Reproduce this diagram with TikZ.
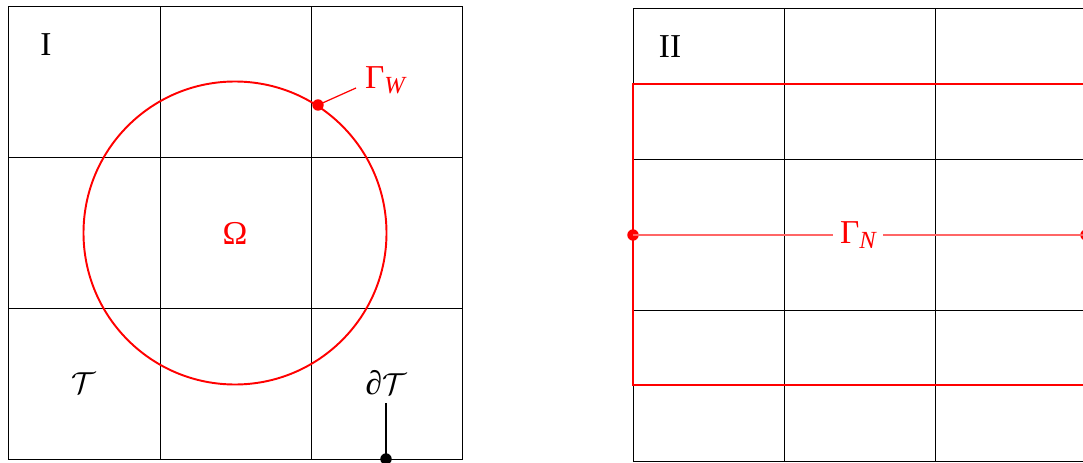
\documentclass[tikz,border=0pt]{standalone}
\usepackage{fontspec}
\setmainfont{Liberation Serif}
\newcommand{\subx}[1]{\raisebox{-0.35ex}{\fontsize{14}{16}\selectfont\itshape #1}}
\begin{document}
\begin{tikzpicture}[x=0.02cm,y=-0.02cm,
  grid/.style={draw=black,line width=0.5pt},
  redline/.style={draw=red,line width=1.1pt},
  thinred/.style={draw=red!60,line width=0.9pt},
  lbl/.style={font=\fontsize{19}{22}\selectfont,inner sep=1pt},
  dot/.style={circle,fill=#1,inner sep=0pt,minimum size=6.5pt}]
\useasboundingbox (0,0) rectangle (1083,463);
% left grid
\draw[grid] (8,6) rectangle (462,459);
\draw[grid] (160,6) -- (160,459) (311,6) -- (311,459)
            (8,157) -- (462,157) (8,308) -- (462,308);
\draw[redline] (235,233) circle [x radius=151.5, y radius=-151.5];
\node[lbl] (I) at (46,45) {I};
\node[lbl,text=red] (Om) at (235,233) {Ω};
\node[lbl] (T) at (84,383) {$\mathcal{T}$};
\node[lbl] (dT) at (386,383) {{\itshape ∂}$\mathcal{T}$};
\node[dot=black] (dTdot) at (386,459) {};
\coordinate (dTs) at (386,403);
\draw[line width=0.6pt] (dTs) -- (dTdot.center);
\node[dot=red] (GWdot) at (318,105) {};
\node[lbl,text=red] (GW) at (385,80) {Γ\subx{W}};
\coordinate (GWend) at (356,88);
\draw[draw=red,line width=0.7pt] (GWdot.center) -- (GWend);
% right grid
\draw[grid] (633,8) rectangle (1086,461);
\draw[grid] (784,8) -- (784,461) (935,8) -- (935,461)
            (633,159) -- (1086,159) (633,310) -- (1086,310);
\draw[redline] (1086,84) -- (633,84) -- (633,385) -- (1086,385);
\node[lbl] (II) at (670,47) {II};
\node[dot=red] (GNl) at (633,235) {};
\node[dot=red] (GNr) at (1086,235) {};
\node[lbl,text=red,fill=white,inner xsep=4pt] (GN) at (858,235) {Γ\subx{N}};
\draw[thinred] (GNl.center) -- (GN.west) (GN.east) -- (GNr.center);
\end{tikzpicture}
\end{document}
